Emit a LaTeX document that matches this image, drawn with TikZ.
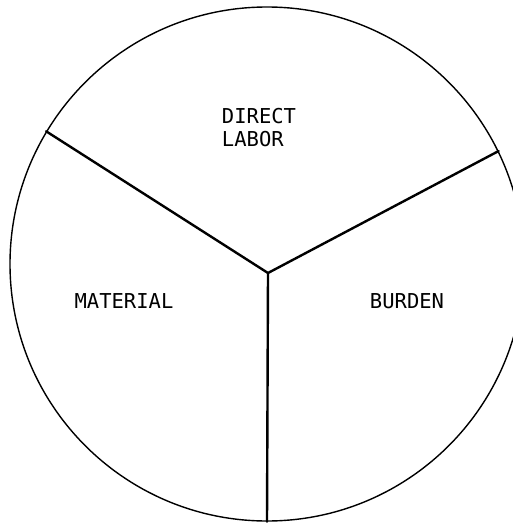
\documentclass[tikz,border=0pt]{standalone}
\usepackage{fontspec}
\setmonofont{DejaVu Sans Mono}
\usepackage{tikz}
\usetikzlibrary{positioning}

\begin{document}
\begin{tikzpicture}[
  x=1pt,y=-1pt,
  pie/.style={circle,draw=black,line width=1.4pt,minimum size=514pt,inner sep=0pt},
  spoke/.style={line width=2.4pt,color=black,line cap=round},
  lbl/.style={align=left,font=\ttfamily\fontsize{20.5}{23}\selectfont,inner sep=0pt}
]
\useasboundingbox (0,0) rectangle (513,524);
\clip (0,0) rectangle (513,524);
\node[pie] (chart) at (267,264) {};
\coordinate (hub) at (268,273);
\draw[spoke] (hub) -- (chart.149);
\draw[spoke] (hub) -- (chart.26);
\draw[spoke] (hub) -- (chart.270);
\node[lbl] (labor) at (259,128) {DIRECT\\LABOR};
\node[lbl] (material) at (124,301) {MATERIAL};
\node[lbl] (burden) at (407,301) {BURDEN};
\end{tikzpicture}
\end{document}
